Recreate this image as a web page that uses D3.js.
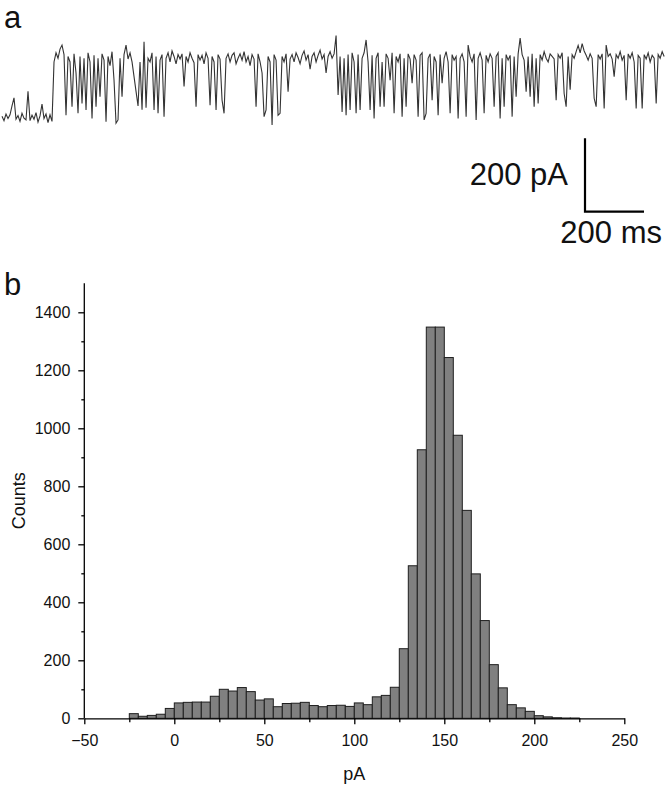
<!DOCTYPE html>
<html><head><meta charset="utf-8">
<script src="https://cdn.jsdelivr.net/npm/d3@7"></script>
<style>
body{margin:0;background:#fff}
svg{display:block}
text{font-family:"Liberation Sans",Arial,Helvetica,sans-serif;fill:#111}
</style>
</head><body>
<svg id="c" width="668" height="785"></svg>
<script>
// ---- Panel a: current trace (pA), sampled every traceStepMs ----
const traceStepMs = 6.78;
const traceValues = [
  2,-10,8,-4,6,30,52,-6,4,-12,
  10,-3,-8,70,-10,5,-6,12,-14,3,
  35,-4,8,-15,6,-12,150,175,160,185,
  196,170,5,165,150,28,172,120,10,165,
  37,160,19,175,150,-4,168,28,160,55,
  172,155,-13,165,140,178,100,-17,-8,160,
  55,170,196,158,175,150,110,70,30,150,
  20,205,25,160,150,175,19,165,10,155,
  170,1,160,175,150,180,165,145,170,158,
  172,83,165,150,175,160,148,28,170,155,
  168,145,175,160,32,165,150,19,170,158,
  46,10,160,172,150,168,175,145,160,172,
  155,178,150,165,140,170,158,28,172,150,
  120,1,19,165,150,-22,170,155,5,10,
  165,150,172,69,158,170,150,175,162,145,
  168,180,155,170,130,165,175,150,168,182,
  158,170,120,165,178,160,172,222,60,165,
  14,160,5,170,19,175,150,10,170,19,
  160,175,210,150,19,168,-4,160,175,28,
  150,28,172,160,100,175,10,165,150,172,
  1,160,28,172,158,92,170,155,1,168,
  175,-8,10,160,172,46,165,150,5,170,
  92,160,178,150,10,170,155,165,-4,160,
  172,150,1,196,165,150,172,-8,160,175,
  155,10,168,150,172,160,28,165,175,-4,
  160,28,170,155,168,1,165,55,172,215,
  170,155,69,165,55,172,28,160,37,170,
  155,178,160,150,172,165,158,46,170,160,
  175,64,28,165,74,170,160,178,195,175,
  200,180,168,155,172,160,51,28,170,158,
  172,23,196,165,172,158,110,170,160,178,
  155,168,46,172,160,175,150,23,168,160,
  23,170,158,175,150,168,160,37,170,160,
  178,165
];
const scaleBarPA = 200;
const scaleBarMs = 200;

// ---- Panel b: histogram ----
const binStarts = [-25,-20,-15,-10,-5,0,5,10,15,20,25,30,35,40,45,50,55,60,65,70,75,80,85,90,95,100,105,110,115,120,125,130,135,140,145,150,155,160,165,170,175,180,185,190,195,200,205,210,215,220];
const binWidth = 5;
const binCounts = [16,7,10,14,34,53,55,56,56,76,100,94,106,92,63,67,40,51,52,55,44,40,44,45,41,53,47,74,79,107,240,526,926,1349,1349,1244,976,717,498,337,185,105,47,36,24,9,5,2,1,1];
const xTickValues = [-50,0,50,100,150,200,250];
const xMinorTicks = [-25,25,75,125,175,225];
const yTickValues = [0,200,400,600,800,1000,1200,1400];
const yMinorTicks = [100,300,500,700,900,1100,1300];
const xLabel = "pA";
const yLabel = "Counts";

const svg = d3.select("#c");

// ===== Panel a =====
const tx = d3.scaleLinear().domain([0, 2247]).range([2, 665]);
const ty = d3.scaleLinear().domain([0, 200]).range([117, 43.6]);
const tracePts = traceValues.map((v,i)=>[i*traceStepMs, v]);
svg.append("path")
  .datum(tracePts)
  .attr("d", d3.line().x(d=>tx(d[0])).y(d=>ty(d[1])))
  .attr("fill","none").attr("stroke","#333").attr("stroke-width",1.1)
  .attr("stroke-linejoin","miter");

svg.append("text").attr("x",4).attr("y",28).attr("font-size",31).text("a");

// scale bar
const sbX = 585, sbY = 211.7;
const sbLenX = tx(scaleBarMs) - tx(0);
const sbLenY = ty(0) - ty(scaleBarPA);
svg.append("path")
  .attr("d", `M${sbX},${sbY - sbLenY}V${sbY}H${sbX + sbLenX}`)
  .attr("fill","none").attr("stroke","#000").attr("stroke-width",2.2);
svg.append("text").attr("x",568).attr("y",185).attr("text-anchor","end").attr("font-size",31).text(scaleBarPA + " pA");
svg.append("text").attr("x",662).attr("y",243).attr("text-anchor","end").attr("font-size",31).text(scaleBarMs + " ms");

// ===== Panel b =====
svg.append("text").attr("x",4).attr("y",295).attr("font-size",31).text("b");

const x = d3.scaleLinear().domain([-50, 250]).range([84.3, 624.3]);
const y = d3.scaleLinear().domain([0, 1500]).range([718.3, 283.3]);

const g = svg.append("g");
g.selectAll("rect.bar").data(binStarts.map((s,i)=>({s, c: binCounts[i]})))
  .join("rect").attr("class","bar")
  .attr("x", d=>x(d.s))
  .attr("width", d=>x(d.s+binWidth)-x(d.s))
  .attr("y", d=>y(d.c))
  .attr("height", d=>y(0)-y(d.c))
  .attr("fill","#808080").attr("stroke","#1e1e1e").attr("stroke-width",1);

// x axis
g.append("g").attr("transform",`translate(0,${y(0)})`)
  .call(d3.axisBottom(x).tickValues(xTickValues).tickFormat(d3.format("d")).tickSize(6).tickSizeOuter(0).tickPadding(10));
g.append("g").attr("transform",`translate(0,${y(0)})`)
  .call(d3.axisBottom(x).tickValues(xMinorTicks).tickSize(4).tickFormat("").tickSizeOuter(0))
  .select(".domain").remove();

// y axis
const yAxis = g.append("g").attr("transform",`translate(${x(-50)},0)`)
  .call(d3.axisLeft(y).tickValues(yTickValues).tickFormat(d3.format("d")).tickSize(6).tickSizeOuter(0).tickPadding(8));
yAxis.select(".domain").attr("d", `M0,${y(0)}V${y(1500)}`);
g.append("g").attr("transform",`translate(${x(-50)},0)`)
  .call(d3.axisLeft(y).tickValues(yMinorTicks).tickSize(3).tickFormat("").tickSizeOuter(0))
  .select(".domain").remove();

svg.selectAll(".tick line, .domain").attr("stroke","#000").attr("stroke-width",1.3);
svg.selectAll(".tick text").attr("font-size",16).attr("font-family","'Liberation Sans',Arial,sans-serif").attr("fill","#111");

svg.append("text").attr("x",(x(-50)+x(250))/2).attr("y",780).attr("text-anchor","middle").attr("font-size",18).text(xLabel);
svg.append("text").attr("transform",`translate(25,${(y(0)+y(1500))/2}) rotate(-90)`).attr("text-anchor","middle").attr("font-size",18).text(yLabel);
</script>
</body></html>
